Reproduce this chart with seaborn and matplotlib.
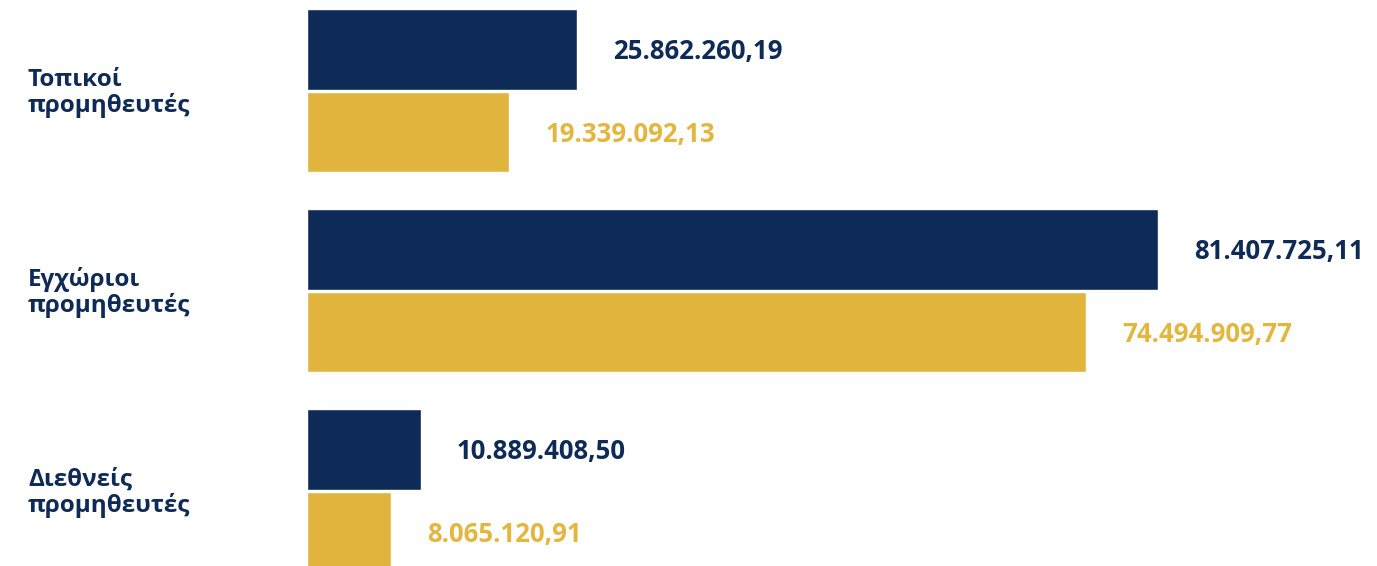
import matplotlib
matplotlib.use("Agg")
import matplotlib.pyplot as plt
import matplotlib.transforms as mtransforms
import pandas as pd
import seaborn as sns

# Supplier categories and the two series of amounts (EUR)
categories = ["Τοπικοί\nπρομηθευτές", "Εγχώριοι\nπρομηθευτές", "Διεθνείς\nπρομηθευτές"]
series_names = ["Α", "Β"]
values_a = [25862260.19, 81407725.11, 10889408.50]
values_b = [19339092.13, 74494909.77, 8065120.91]

NAVY = "#0e2a56"
GOLD = "#e1b53d"
GOLD_TEXT = "#e3b73f"

df = pd.DataFrame({
    "category": categories * 2,
    "series": [series_names[0]] * 3 + [series_names[1]] * 3,
    "value": values_a + values_b,
})

sns.set_theme(style="white")
plt.rcParams["font.family"] = ["Open Sans", "DejaVu Sans"]
plt.rcParams["font.weight"] = "bold"

fig = plt.figure(figsize=(13.77, 5.66), dpi=100)
left = 307 / 1377
ax = fig.add_axes([left, 0, 1 - left, 1])

sns.barplot(
    data=df, y="category", x="value", hue="series", order=categories,
    hue_order=series_names, palette=[NAVY, GOLD], orient="h",
    width=0.825, gap=0.02, ax=ax, legend=False, saturation=1, errorbar=None,
)

px_per_unit = 851 / 81407725.11
ax.set_xlim(0, 1070 / px_per_unit)
ax.set_ylim(2.376, -0.454)

for s in ax.spines.values():
    s.set_visible(False)
ax.set_xticks([])
ax.set_yticks([])
ax.set_xlabel("")
ax.set_ylabel("")


def fmt(v):
    s = f"{v:,.2f}"
    return s.replace(",", "X").replace(".", ",").replace("X", ".")


text_colors = [NAVY, GOLD_TEXT]
for container, col in zip(ax.containers, text_colors):
    for bar in container:
        w = bar.get_width()
        yc = bar.get_y() + bar.get_height() / 2
        ax.annotate(fmt(w), xy=(w, yc), xytext=(26, -1.5), textcoords="offset points",
                    ha="left", va="center", fontsize=18.5, fontweight="bold", color=col)

# Category labels at the left margin
trans = mtransforms.blended_transform_factory(fig.transFigure, ax.transData)
for i, cat in enumerate(categories):
    ax.text(28 / 1377, i + 0.01, cat, transform=trans, ha="left", va="center",
            fontsize=17.5, fontweight="bold", color=NAVY, linespacing=1.05)

fig.savefig("out.png", dpi=100)
